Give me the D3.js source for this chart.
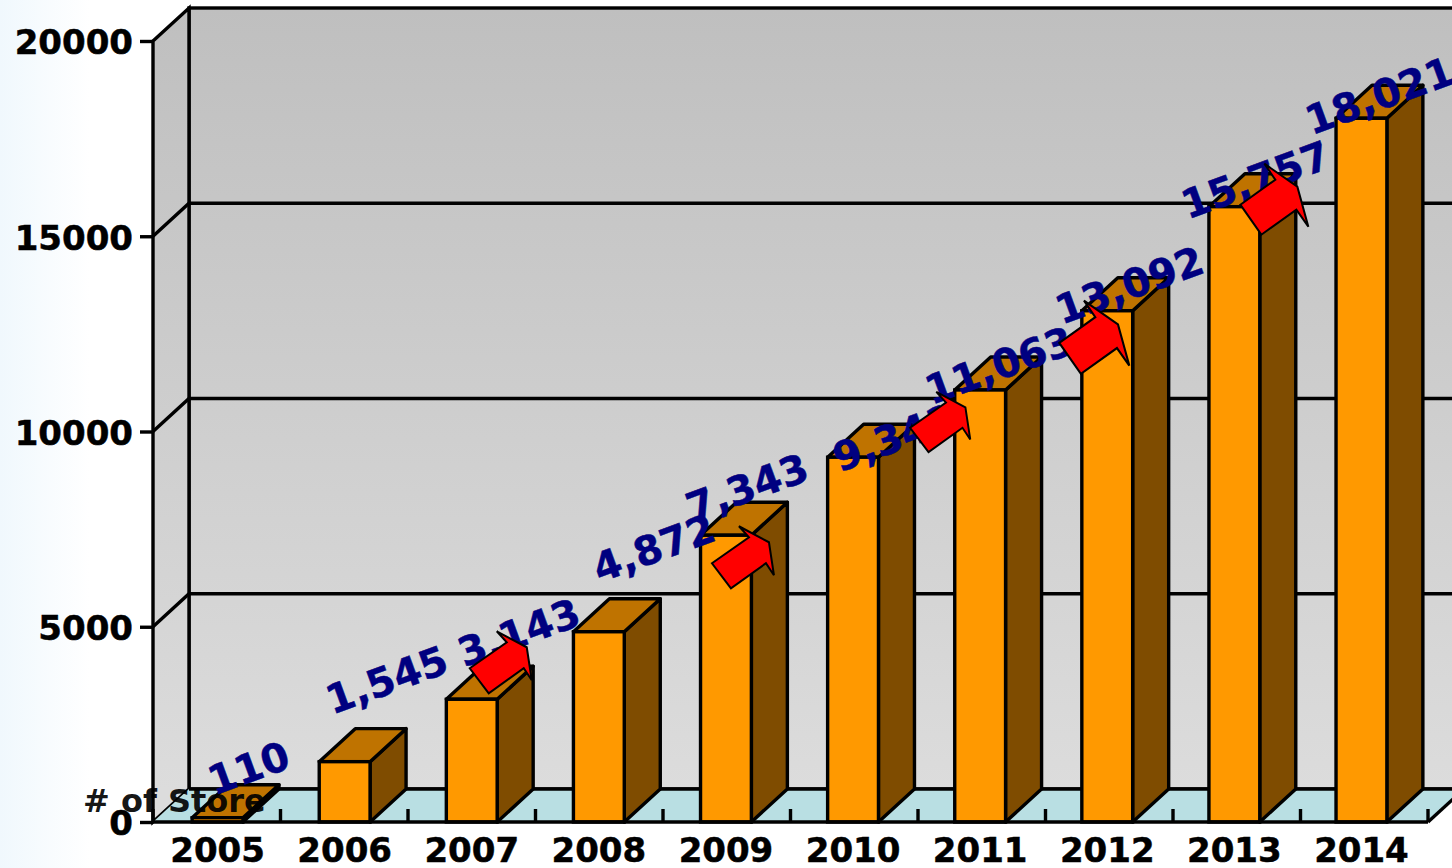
<!DOCTYPE html>
<html>
<head>
<meta charset="utf-8">
<script src="https://cdn.jsdelivr.net/npm/d3@7"></script>
<style>
  html, body { margin: 0; padding: 0; background: #fff; overflow: hidden; }
  text { font-family: "DejaVu Sans", Verdana, sans-serif; font-weight: bold; }
</style>
</head>
<body>
<svg id="chart" width="1452" height="868"></svg>
<script>
// data
const years = ['2005', '2006', '2007', '2008', '2009', '2010', '2011', '2012', '2013', '2014'];
const stores = [110, 1545, 3143, 4872, 7343, 9341, 11063, 13092, 15757, 18021];
const yTicks = [0, 5000, 10000, 15000, 20000];
const arrowYears = ['2007', '2009', '2011', '2012', '2013'];
const yTitle = '# of Store';

const svg = d3.select('#chart');
const depthX = 36, depthY = -33;
const stroke = 3.4;

// the bars sit on a slightly tighter step than the floor ticks
const x = d3.scaleBand().domain(years).range([154, 1425]).paddingInner(0.6).paddingOuter(0.3);
const xEdge = d3.scaleLinear().domain([0, years.length]).range([153, 1428]);
const y = d3.scaleLinear().domain([0, 20000]).range([822, 41]);
const x0 = xEdge(0), x1 = xEdge(years.length);

const line = d3.line();

// gradients
const defs = svg.append('defs');
const pageGrad = defs.append('linearGradient').attr('id', 'pageGrad');
pageGrad.append('stop').attr('offset', '0%').attr('stop-color', '#f0f8fd');
pageGrad.append('stop').attr('offset', '100%').attr('stop-color', '#ffffff');
const wallGrad = defs.append('linearGradient').attr('id', 'wallGrad')
  .attr('gradientUnits', 'userSpaceOnUse')
  .attr('x1', 0).attr('x2', 0).attr('y1', y(20000) + depthY).attr('y2', y(0) + depthY);
wallGrad.append('stop').attr('offset', '0%').attr('stop-color', '#bfbfbf');
wallGrad.append('stop').attr('offset', '100%').attr('stop-color', '#dcdcdc');

svg.append('rect').attr('width', 90).attr('height', 868).attr('fill', 'url(#pageGrad)');

// back wall, side wall and floor
svg.append('rect')
  .attr('x', x0 + depthX).attr('y', y(20000) + depthY)
  .attr('width', x1 - x0 + 100).attr('height', y(0) - y(20000))
  .attr('fill', 'url(#wallGrad)').attr('stroke', '#000').attr('stroke-width', stroke);
svg.append('path')
  .attr('d', line([[x0, y(20000)], [x0 + depthX, y(20000) + depthY], [x0 + depthX, y(0) + depthY], [x0, y(0)]]) + 'Z')
  .attr('fill', 'url(#wallGrad)').attr('stroke', '#000').attr('stroke-width', stroke);
svg.append('path')
  .attr('d', line([[x0, y(0)], [x0 + depthX, y(0) + depthY], [x1 + depthX, y(0) + depthY], [x1, y(0)]]) + 'Z')
  .attr('fill', '#b9dfe3').attr('stroke', 'none');
svg.append('path')
  .attr('d', line([[x0 + depthX, y(0) + depthY], [x1 + depthX, y(0) + depthY]]))
  .attr('stroke', '#000').attr('stroke-width', stroke);
svg.append('path')
  .attr('d', line([[x1, y(0)], [x1 + depthX, y(0) + depthY]]))
  .attr('stroke', '#000').attr('stroke-width', stroke);

// gridlines run along the side wall, then across the back wall
svg.append('g').selectAll('path')
  .data(yTicks.filter(d => d > 0 && d < 20000))
  .join('path')
  .attr('d', d => line([[x0, y(d)], [x0 + depthX, y(d) + depthY], [1460, y(d) + depthY]]))
  .attr('fill', 'none').attr('stroke', '#000').attr('stroke-width', stroke);

// ticks standing on the front edge of the floor
svg.append('g').selectAll('line')
  .data(d3.range(years.length + 1))
  .join('line')
  .attr('x1', d => xEdge(d)).attr('x2', d => xEdge(d))
  .attr('y1', y(0)).attr('y2', y(0) - 13)
  .attr('stroke', '#000').attr('stroke-width', stroke);

// bars
const bars = svg.append('g').selectAll('g')
  .data(years.map((year, i) => ({ year, value: stores[i] })))
  .join('g');

bars.append('path') // side
  .attr('d', d => {
    const r = x(d.year) + x.bandwidth();
    return line([[r, y(0)], [r, y(d.value)], [r + depthX, y(d.value) + depthY], [r + depthX, y(0) + depthY]]) + 'Z';
  })
  .attr('fill', '#7f4c00').attr('stroke', '#000').attr('stroke-width', stroke).attr('stroke-linejoin', 'round');
bars.append('path') // top
  .attr('d', d => {
    const l = x(d.year), r = l + x.bandwidth(), t = y(d.value);
    return line([[l, t], [l + depthX, t + depthY], [r + depthX, t + depthY], [r, t]]) + 'Z';
  })
  .attr('fill', '#bf7300').attr('stroke', '#000').attr('stroke-width', stroke).attr('stroke-linejoin', 'round');
bars.append('rect') // front
  .attr('x', d => x(d.year))
  .attr('y', d => y(d.value))
  .attr('width', x.bandwidth())
  .attr('height', d => y(0) - y(d.value))
  .attr('fill', '#ff9900').attr('stroke', '#000').attr('stroke-width', stroke);

// value labels, nudged by hand like the original
const labelNudge = [[31, -50], [42, -82], [47, -67], [55, -84], [21, -48], [41, -20], [19, -25], [22, -26], [21, -27], [18, -23]];
svg.append('g').selectAll('text')
  .data(stores)
  .join('text')
  .attr('transform', (d, i) => {
    const cx = x(years[i]) + x.bandwidth() / 2 + labelNudge[i][0];
    const cy = y(d) + labelNudge[i][1];
    return `translate(${cx},${cy}) rotate(-20)`;
  })
  .attr('text-anchor', 'middle')
  .attr('dy', '0.36em')
  .attr('font-size', 40)
  .attr('fill', '#000080')
  .attr('stroke', '#000080').attr('stroke-width', 0.5)
  .text(d => d3.format(',')(d));

// red arrows, the first three are slimmer than the last two
const arrowSlim = [[-32, 6], [5, -20], [-5, -31], [25, -15], [30, 18], [22, 6], [-13, 31]];
const arrowWide = [[-33, 5], [2, -20], [-9, -36], [24, -13], [35, 27], [23, 10], [-12, 35]];
const arrowShapes = [arrowSlim, arrowSlim, arrowSlim, arrowWide, arrowWide];
const arrowNudge = [[30, -37], [18, 22], [-39, 32], [-14, 27], [39, -7]];
const arrowSize = [1, 1, 0.97, 1.03, 1];
svg.append('g').selectAll('path')
  .data(arrowYears)
  .join('path')
  .attr('d', (d, i) => line(arrowShapes[i]) + 'Z')
  .attr('transform', (d, i) => {
    const v = stores[years.indexOf(d)];
    const cx = x(d) + x.bandwidth() / 2 + arrowNudge[i][0];
    const cy = y(v) + arrowNudge[i][1];
    return `translate(${cx},${cy}) scale(${arrowSize[i]})`;
  })
  .attr('fill', '#ff0000').attr('stroke', '#000').attr('stroke-width', 2);

// axes
const yAxis = svg.append('g')
  .attr('transform', `translate(${x0},0)`)
  .call(d3.axisLeft(y).tickValues(yTicks).tickFormat(d3.format('d')).tickSize(13).tickPadding(7));
yAxis.selectAll('.tick line').attr('stroke', '#000').attr('stroke-width', stroke);
yAxis.selectAll('.domain').attr('stroke', 'none');
yAxis.selectAll('text').attr('font-size', 34).attr('dy', '0.38em').attr('fill', '#000')
  .attr('stroke', '#000').attr('stroke-width', 0.5);

const xAxis = svg.append('g')
  .attr('transform', `translate(0,${y(0)})`)
  .call(d3.axisBottom(x).tickSize(0).tickPadding(16));
xAxis.selectAll('.domain').attr('stroke', 'none');
xAxis.selectAll('text').attr('font-size', 34).attr('fill', '#000')
  .attr('stroke', '#000').attr('stroke-width', 0.5);
svg.append('path')
  .attr('d', line([[x0, y(0)], [x1, y(0)]]))
  .attr('stroke', '#000').attr('stroke-width', stroke);

svg.append('text')
  .attr('x', 83).attr('y', 812)
  .attr('font-size', 32)
  .attr('fill', '#000')
  .attr('fill-opacity', 0.92)
  .text(yTitle);
</script>
</body>
</html>
